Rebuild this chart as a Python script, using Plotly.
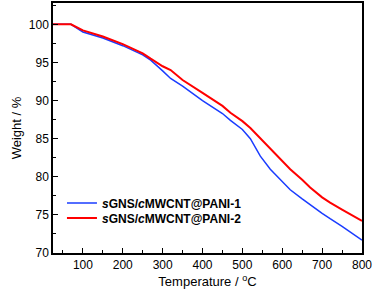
import plotly.graph_objects as go

temp = [25, 70, 100, 150, 200, 250, 270, 290, 300, 320, 350, 400, 450, 470, 500, 520, 535, 545, 570, 595, 620, 650, 670, 700, 720, 750, 800]
pani1 = [100, 100, 99.0, 98.2, 97.2, 96.0, 95.3, 94.4, 93.9, 92.9, 91.9, 90.0, 88.3, 87.4, 86.2, 85.0, 83.6, 82.7, 81.0, 79.7, 78.3, 77.1, 76.3, 75.2, 74.5, 73.5, 71.7]
pani2 = [100, 100, 99.2, 98.4, 97.4, 96.2, 95.5, 94.8, 94.5, 94.0, 92.7, 91.0, 89.3, 88.4, 87.3, 86.4, 85.6, 85.1, 83.7, 82.3, 81.0, 79.6, 78.6, 77.3, 76.6, 75.7, 74.2]
names = ["<b><i>s</i>GNS/<i>c</i>MWCNT@PANI-1</b>", "<b><i>s</i>GNS/<i>c</i>MWCNT@PANI-2</b>"]

fig = go.Figure()
fig.add_trace(go.Scatter(x=temp, y=pani1, mode="lines", name=names[0], legend="legend", showlegend=True,
                         line=dict(color="#1a3cff", width=1.5)))
fig.add_trace(go.Scatter(x=temp, y=pani2, mode="lines", name=names[1], legend="legend2", showlegend=True,
                         line=dict(color="#ff0000", width=2)))

axis_common = dict(showline=True, linecolor="black", linewidth=1.5, mirror=True, automargin=False,
                   ticks="inside", ticklen=5, tickcolor="black", showgrid=False, zeroline=False,
                   tickfont=dict(size=12, color="black", family="Liberation Sans"))
fig.update_xaxes(range=[25, 800], tick0=100, dtick=100,
                 minor=dict(ticks="inside", ticklen=3, dtick=50, tick0=0, tickcolor="black"),
                 title=dict(text="Temperature / <sup>o</sup>C", font=dict(size=13, color="black", family="Liberation Sans"), standoff=6),
                 **axis_common)
fig.update_yaxes(range=[70, 102.8], tick0=70, dtick=5,
                 minor=dict(ticks="inside", ticklen=3, dtick=2.5, tick0=70, tickcolor="black"),
                 title=dict(text="Weight / %", font=dict(size=13, color="black", family="Liberation Sans"), standoff=4),
                 **axis_common)
leg = dict(xanchor="left", yanchor="middle", bgcolor="rgba(0,0,0,0)", visible=True,
           font=dict(size=12, color="black", family="Liberation Sans"))
fig.update_layout(
    width=375, height=295,
    margin=dict(l=53, r=13, t=3, b=42),
    plot_bgcolor="white", paper_bgcolor="white",
    font=dict(family="Liberation Sans", color="black"),
    showlegend=True,
    legend=dict(x=0.029, y=0.2, **leg),
    legend2=dict(x=0.029, y=0.14, **leg),
)
fig.write_html("out.html", config={"displayModeBar": False},
               post_script="document.body.style.margin='0';")
